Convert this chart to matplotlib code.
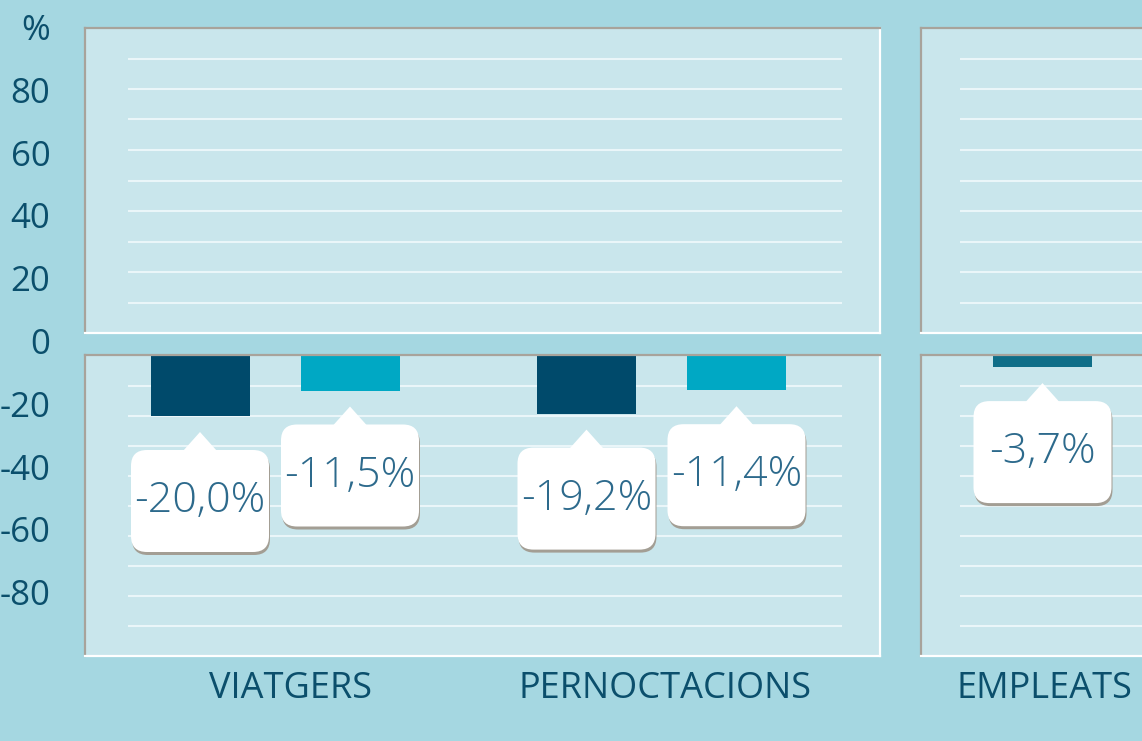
import numpy as np
import matplotlib
matplotlib.use("Agg")
import matplotlib.pyplot as plt
from matplotlib.patches import FancyBboxPatch, Polygon
from matplotlib.transforms import IdentityTransform, blended_transform_factory

# data
categories = ["VIATGERS", "PERNOCTACIONS"]
serie_a = [-20.0, -19.2]       # dark bars
serie_b = [-11.5, -11.4]       # light bars
empleats_cat = ["EMPLEATS"]
empleats = [-3.7]
ytick_vals = [100, 80, 60, 40, 20, 0, -20, -40, -60, -80]
ytick_labels = ["%", "80", "60", "40", "20", "0", "-20", "-40", "-60", "-80"]

W, H = 1142, 741
BG = "#a5d7e1"
PANEL = "#c9e6ec"
GRID = "#eaf6f9"
DARK = "#004a6b"
CYAN = "#00a8c4"
TEAL = "#0f6e88"
TXT = "#0b4f6c"
LBL = "#2d6a8c"
GREY = "#a8a39b"

plt.rcParams['font.family'] = ['Open Sans', 'DejaVu Sans']

fig = plt.figure(figsize=(W / 100, H / 100), dpi=100, facecolor=BG)

PX = 386.5      # pixels per category unit
BW = 99 / PX    # bar width
OFF = 75 / PX   # offset of each bar from group centre


def panel(x0, x1, y0, y1, xc, ylim):
    # x0..x1, y0..y1 in image pixels (y down), xc = pixel of category 0
    ax = fig.add_axes([x0 / W, 1 - y1 / H, (x1 - x0) / W, (y1 - y0) / H])
    ax.set_facecolor(PANEL)
    ax.set_xlim((x0 - xc) / PX, (x1 - xc) / PX)
    ax.set_ylim(*ylim)
    ax.set_xticks([])
    ax.set_yticks([])
    for s in ['top', 'left']:
        ax.spines[s].set_color(GREY)
        ax.spines[s].set_linewidth(1.6)
    for s in ['bottom', 'right']:
        ax.spines[s].set_color("white")
        ax.spines[s].set_linewidth(1.6)
    return ax


def grid(ax, levels, gx0, gx1, xc):
    ax.hlines(levels, (gx0 - xc) / PX, (gx1 - xc) / PX, color=GRID, lw=1.5, zorder=1)


xc_left = 275
xc_right = 1042.5

ax_tl = panel(85, 880, 28, 333, xc_left, (0, 100))
ax_bl = panel(85, 880, 355, 656, xc_left, (-100, 1 / 3))
ax_tr = panel(921, 1320, 28, 333, xc_right, (0, 100))
ax_br = panel(921, 1320, 355, 656, xc_right, (-100, 1 / 3))

up = np.arange(10, 100, 10)
down = -np.arange(10, 100, 10)
grid(ax_tl, up, 128, 842, xc_left)
grid(ax_bl, down, 128, 842, xc_left)
grid(ax_tr, up, 960, 1320, xc_right)
grid(ax_br, down, 960, 1320, xc_right)

x = np.arange(len(categories))
ax_bl.bar(x - OFF, serie_a, BW, color=DARK, zorder=2)
ax_bl.bar(x + OFF, serie_b, BW, color=CYAN, zorder=2)
ax_br.bar(np.arange(len(empleats)), empleats, BW, color=TEAL, zorder=2)

# category labels
for ax, labels, xs in [(ax_bl, categories, [0.04, 1.01]), (ax_br, empleats_cat, [0.005])]:
    tr = blended_transform_factory(ax.transData, fig.transFigure)
    for lab, xx in zip(labels, xs):
        ax.text(xx, 1 - 689 / H, lab, transform=tr, ha='center', va='center',
                fontsize=26, color=TXT, clip_on=False)

# y tick labels on their own scale
s = 3.1375
ax_lab = fig.add_axes([85 / W, 0, 0.0001, 1])
ax_lab.set_ylim(-(H - 341) / s, 341 / s)
ax_lab.set_yticks(ytick_vals)
ax_lab.set_yticklabels(ytick_labels)
ax_lab.tick_params(axis='y', length=0, pad=25, labelsize=25, labelcolor=TXT)
ax_lab.set_xticks([])
ax_lab.patch.set_visible(False)
for sp in ax_lab.spines.values():
    sp.set_visible(False)


def callout(ax, xv, yv, text):
    fig.canvas.draw()
    bx, by = ax.transData.transform((xv, yv))   # display px, y up
    tip = by - 16
    top = tip - 18
    bw, bh = 138, 102
    ident = IdentityTransform()
    shadow = FancyBboxPatch((bx - bw / 2 + 1, top - bh - 3), bw, bh,
                            boxstyle="round,pad=0,rounding_size=16",
                            fc="#a39e94", ec="none", transform=ident, zorder=5)
    box = FancyBboxPatch((bx - bw / 2, top - bh), bw, bh,
                         boxstyle="round,pad=0,rounding_size=16",
                         fc="white", ec="none", transform=ident, zorder=6)
    tri = Polygon([(bx - 17, top - 1), (bx + 17, top - 1), (bx, tip)],
                  closed=True, fc="white", ec="none", transform=ident, zorder=6)
    fig.add_artist(shadow)
    fig.add_artist(box)
    fig.add_artist(tri)
    fig.text(bx, top - bh / 2, text, transform=ident, ha='center', va='center',
             fontsize=31, color=LBL, fontweight='light', zorder=7)


def fmt(v):
    return ("%.1f%%" % v).replace(".", ",")


for i in range(len(categories)):
    callout(ax_bl, x[i] - OFF, serie_a[i], fmt(serie_a[i]))
    callout(ax_bl, x[i] + OFF, serie_b[i], fmt(serie_b[i]))
for i in range(len(empleats)):
    callout(ax_br, i, empleats[i], fmt(empleats[i]))

fig.savefig("out.png", dpi=100, facecolor=BG)
